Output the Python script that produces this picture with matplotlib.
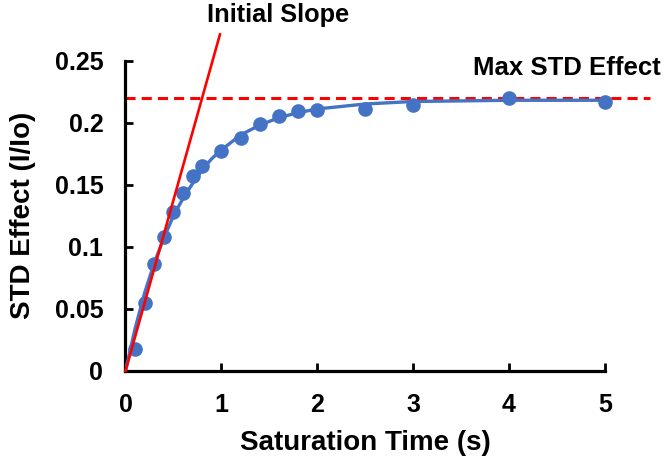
import matplotlib
matplotlib.use("Agg")
import matplotlib.pyplot as plt

# Measured data points
time_s = [0.1, 0.2, 0.3, 0.4, 0.5, 0.6, 0.7, 0.8, 1.0, 1.2, 1.4, 1.6, 1.8, 2.0, 2.5, 3.0, 4.0, 5.0]
std_effect = [0.018, 0.055, 0.086, 0.108, 0.128, 0.143, 0.157, 0.165, 0.177, 0.188, 0.199,
              0.205, 0.209, 0.210, 0.211, 0.214, 0.220, 0.217]

# Fitted curve
fit_t = [0, 0.1, 0.2, 0.3, 0.4, 0.5, 0.6, 0.7, 0.8, 0.9, 1.0, 1.2, 1.4, 1.6, 1.8, 2.0, 2.5, 3.0, 3.5, 4.0, 4.5, 5.0]
fit_y = [0, 0.034, 0.063, 0.087, 0.107, 0.125, 0.139, 0.151, 0.162, 0.171, 0.178, 0.190, 0.198,
         0.204, 0.208, 0.211, 0.215, 0.217, 0.2175, 0.218, 0.218, 0.218]

# Initial slope line and max effect line
slope_x = [0, 0.985]
slope_y = [0, 0.271]
max_x = [0, 5.47]
max_y = [0.22, 0.22]

x_ticks = [0, 1, 2, 3, 4, 5]
y_ticks = [0, 0.05, 0.1, 0.15, 0.2, 0.25]
y_tick_labels = ["0", "0.05", "0.1", "0.15", "0.2", "0.25"]

plt.rcParams['font.family'] = ['Liberation Sans', 'DejaVu Sans']
plt.rcParams['font.weight'] = 'bold'

fig = plt.figure(figsize=(6.64, 4.62), dpi=100)
ax = fig.add_axes([0.189, 0.197, 0.722, 0.672])

blue = '#4472C4'
red = '#FF0000'

ax.plot(fit_t, fit_y, color=blue, lw=2.4, zorder=3, solid_capstyle='round')
ax.plot(time_s, std_effect, 'o', color=blue, ms=9.5, zorder=4, clip_on=False)
ax.plot(slope_x, slope_y, color=red, lw=1.9, zorder=5, clip_on=False)
ax.plot(max_x, max_y, color=red, lw=2.2, ls=(0, (3.3, 2.0)), zorder=2, clip_on=False)

ax.set_xlim(0, 5)
ax.set_ylim(0, 0.25)
ax.set_xticks(x_ticks)
ax.set_xticklabels([str(v) for v in x_ticks])
ax.set_yticks(y_ticks)
ax.set_yticklabels(y_tick_labels)

for s in ['top', 'right']:
    ax.spines[s].set_visible(False)
for s in ['left', 'bottom']:
    ax.spines[s].set_linewidth(2.3)
    ax.spines[s].set_color('black')

ax.tick_params(axis='both', direction='in', length=6, width=2.0, labelsize=18, colors='black')
ax.tick_params(axis='x', pad=16)
ax.tick_params(axis='y', pad=16)

ax.set_xlabel('Saturation Time (s)', fontsize=20, fontweight='bold', labelpad=9)
ax.set_ylabel('STD Effect (I/Io)', fontsize=20, fontweight='bold', labelpad=13)

fig.text(207 / 664, 1 - 22 / 462, 'Initial Slope', fontsize=18.3, fontweight='bold', ha='left', va='baseline')
fig.text(473 / 664, 1 - 75 / 462, 'Max STD Effect', fontsize=18.5, fontweight='bold', ha='left', va='baseline')

fig.savefig('out.png', dpi=100, facecolor='white')
